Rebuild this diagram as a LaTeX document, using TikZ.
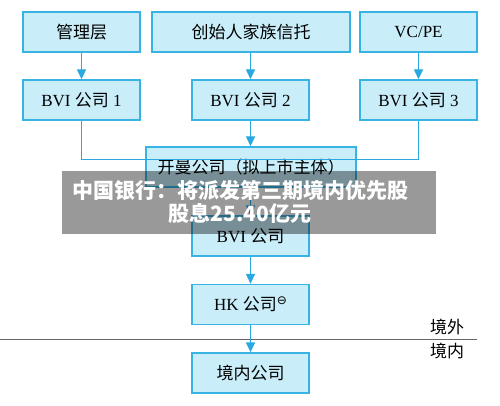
\documentclass[tikz,border=0pt]{standalone}
\usepackage{fontspec}
\setmainfont{Liberation Serif}
\newfontfamily\cjk{Noto Sans CJK SC}
\newfontfamily\symf{DejaVu Sans}
\usetikzlibrary{arrows.meta,calc}
\definecolor{boxfill}{HTML}{C9EEFA}
\definecolor{boxline}{HTML}{38B4E4}
\definecolor{arrowc}{HTML}{2AA8E0}
\begin{document}
\begin{tikzpicture}[x=1pt,y=-1pt,
  entity/.style={draw=boxline,fill=boxfill,line width=1.4pt,minimum height=40pt,inner sep=0pt,font=\fontsize{17}{20}\selectfont},
  conn/.style={draw=arrowc,line width=1.4pt},
  arr/.style={conn,-{Triangle[width=9pt,length=10pt]}}]
\useasboundingbox (0,0) rectangle (500,406);
\fill[white] (0,0) rectangle (500,406);
\node[entity,minimum width=117pt] (t1) at (81.5,32) {\cjk 管理层};
\node[entity,minimum width=198pt] (t2) at (251,32) {\cjk 创始人家族信托};
\node[entity,minimum width=117pt] (t3) at (418.5,32) {VC/PE};
\node[entity,minimum width=117pt] (b1) at (81.5,100) {BVI {\cjk 公司} 1};
\node[entity,minimum width=117pt] (b2) at (250.5,100) {BVI {\cjk 公司} 2};
\node[entity,minimum width=117pt] (b3) at (418.5,100) {BVI {\cjk 公司} 3};
\node[entity,minimum width=210pt] (km) at (251,167) {{\cjk 开曼公司（拟上市主体）}};
\node[entity,minimum width=117pt] (bv) at (250.5,236) {BVI {\cjk 公司}};
\node[entity,minimum width=117pt] (hk) at (250.5,304.5) {HK {\cjk 公司}\raisebox{6pt}{\fontsize{12}{12}\selectfont\symf ⊖}};
\node[entity,minimum width=117pt] (jn) at (250.5,373) {\cjk 境内公司};
\coordinate (j) at ($(b2.south)+(0,39)$);
\draw[arr] (t1.south) -- (b1.north);
\draw[arr] (t2.south -| b2.north) -- (b2.north);
\draw[arr] (t3.south) -- (b3.north);
\draw[conn] (b1.south) |- (j);
\draw[conn] (b3.south) |- (j);
\draw[arr] (b2.south) -- (km.north -| b2.south);
\draw[arr] (km.south -| bv.north) -- (bv.north);
\draw[arr] (bv.south) -- (hk.north);
\coordinate (lL) at (0,339);
\coordinate (lR) at (477,339);
\draw[gray!80!black,line width=0.9pt] (lL) -- (lR);
\draw[arr] (hk.south) -- (jn.north);
\node[font=\fontsize{17}{20}\selectfont\cjk,inner sep=0pt] (jw) at (447,327) {境外};
\node[font=\fontsize{17}{20}\selectfont\cjk,inner sep=0pt] (jnl) at (447,351) {境内};
\fill[black,opacity=0.4] (62,171) rectangle (436,234);
\node[text=white,font=\fontsize{21}{23}\selectfont\cjk\bfseries,align=center,inner sep=0pt] (ban) at (240,201.5) {中国银行：将派发第三期境内优先股\\股息25.40亿元};
\end{tikzpicture}
\end{document}
